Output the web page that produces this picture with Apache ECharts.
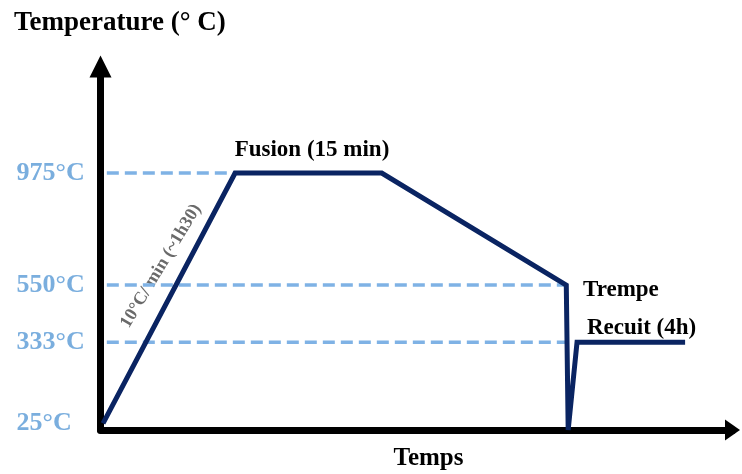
<!DOCTYPE html>
<html>
<head>
<meta charset="utf-8">
<script src="https://cdn.jsdelivr.net/npm/echarts@6/dist/echarts.min.js"></script>
<style>
html,body{margin:0;padding:0;background:#fff;}
#chart{width:742px;height:474px;}
</style>
</head>
<body>
<div id="chart"></div>
<script>
// Schematic time axis (arbitrary units)
const timeUnits = [0.4, 21.3, 44.5, 73.7, 74.0, 75.4, 92.5];
// Temperature (°C) of the heat-treatment cycle
const temperatures = [25, 975, 975, 550, 0, 333, 333];
// Reference levels drawn as dashed guide lines
const guideLevels = [975, 550, 333];
const guideStart = 1.0;
const guideEnds = [21.3, 73.7, 73.7];
// Y tick labels
const tickValues = [25, 333, 550, 975];
const tickLabels = ['25°C', '333°C', '550°C', '975°C'];
// Text annotations
const titleText = 'Temperature (° C)';
const xName = 'Temps';
const fusionText = 'Fusion (15 min)';
const trempeText = 'Trempe';
const recuitText = 'Recuit (4h)';
const rampText = '10°C/ min (~1h30)';

const serif = "'Liberation Serif', 'Times New Roman', serif";
const chart = echarts.init(document.getElementById('chart'));

const curve = timeUnits.map((t, i) => [t, temperatures[i]]);
const guideSeries = guideLevels.map((lv, i) => ({
  type: 'line',
  data: [[guideStart, lv], [guideEnds[i], lv]],
  showSymbol: false,
  silent: true,
  z: 1,
  lineStyle: { color: '#7fb2e5', width: 3.5, type: [12, 6] },
  animation: false
}));

const option = {
  backgroundColor: '#ffffff',
  animation: false,
  grid: { left: 100.5, right: 9.5, top: 66.4, bottom: 44 },
  xAxis: {
    type: 'value', min: 0, max: 100,
    axisLine: { show: true, symbol: ['none', 'triangle'], symbolSize: [21, 15],
      lineStyle: { color: '#000', width: 7 } },
    axisTick: { show: false }, axisLabel: { show: false }, splitLine: { show: false }
  },
  yAxis: {
    type: 'value', min: 0, max: 1380,
    axisLine: { show: true, symbol: ['none', 'triangle'], symbolSize: [22, 22],
      lineStyle: { color: '#000', width: 7 } },
    axisTick: { show: false },
    splitLine: { show: false },
    axisLabel: {
      show: true,
      customValues: tickValues,
      formatter: v => tickLabels[tickValues.indexOf(v)],
      align: 'left', margin: 84,
      color: '#7aaede', fontSize: 26, fontWeight: 'bold', fontFamily: serif
    }
  },
  series: guideSeries.concat([{
    type: 'line',
    data: curve,
    showSymbol: false,
    z: 3,
    lineStyle: { color: '#0a2462', width: 5, join: 'miter', miterLimit: 3 },
    animation: false
  }]),
  graphic: [
    { type: 'text', x: 14, y: 23.5, style: { text: titleText, font: 'bold 27px ' + serif, fill: '#000', align: 'left', verticalAlign: 'middle' } },
    { type: 'text', x: 428.5, y: 458.5, style: { text: xName, font: 'bold 25px ' + serif, fill: '#000', align: 'center', verticalAlign: 'middle' } },
    { type: 'text', x: 312, y: 150, style: { text: fusionText, font: 'bold 23px ' + serif, fill: '#000', align: 'center', verticalAlign: 'middle' } },
    { type: 'text', x: 583, y: 290.5, style: { text: trempeText, font: 'bold 23px ' + serif, fill: '#000', align: 'left', verticalAlign: 'middle' } },
    { type: 'text', x: 587, y: 328.5, style: { text: recuitText, font: 'bold 23px ' + serif, fill: '#000', align: 'left', verticalAlign: 'middle' } },
    { type: 'text', x: 161, y: 266, rotation: 59 * Math.PI / 180, style: { text: rampText, font: 'bold 18px ' + serif, fill: '#6a6a6a', align: 'center', verticalAlign: 'middle' } }
  ]
};
chart.setOption(option);
</script>
</body>
</html>
